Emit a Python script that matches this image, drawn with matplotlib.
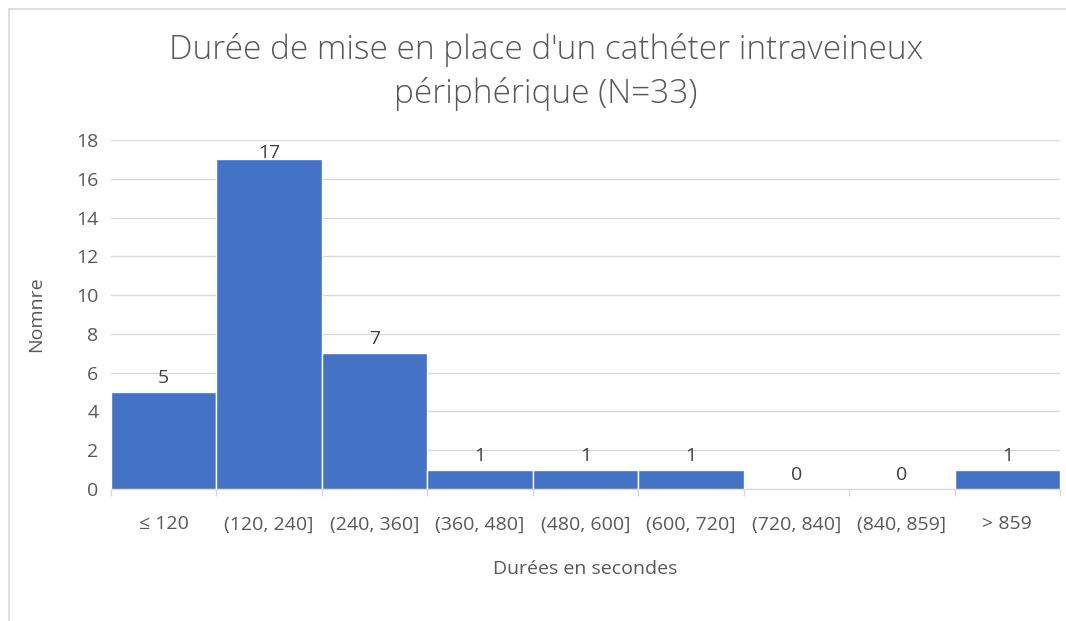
import matplotlib.pyplot as plt
from matplotlib.lines import Line2D
import numpy as np

# Data
bins = ['≤ 120', '(120, 240]', '(240, 360]', '(360, 480]', '(480, 600]',
        '(600, 720]', '(720, 840]', '(840, 859]', '> 859']
counts = [5, 17, 7, 1, 1, 1, 0, 0, 1]

plt.rcParams['font.family'] = ['Open Sans', 'DejaVu Sans']
text_col = '#595959'
bar_col = '#4472C4'
grid_col = '#D9D9D9'
fs = 14

fig = plt.figure(figsize=(10.66, 6.21), dpi=100)
ax = fig.add_axes([111 / 1066, 1 - 489 / 621, (1060 - 111) / 1066, (489 - 140) / 621])

x = np.arange(len(bins))
bars = ax.bar(x, counts, width=1.0, color=bar_col, edgecolor='white', linewidth=1, zorder=3)

ymax = 18
for b, v in zip(bars, counts):
    # labels that would not fit above the plot top are pushed down (like Excel)
    ax.text(b.get_x() + b.get_width() / 2, min(v + 0.25, ymax - 1.15), str(v),
            ha='center', va='bottom', fontsize=fs, color='#404040', zorder=4)

ax.set_xlim(-0.5, len(bins) - 0.5)
ax.set_ylim(0, ymax)
ax.set_yticks(range(0, ymax + 1, 2))
ax.yaxis.grid(True, color=grid_col, linewidth=1, zorder=0)
ax.set_axisbelow(True)

# ticks at bin edges, labels in the middle
ax.set_xticks(np.arange(len(bins) + 1) - 0.5)
ax.set_xticklabels([])
ax.set_xticks(x, minor=True)
ax.set_xticklabels(bins, minor=True)
ax.tick_params(axis='x', which='major', length=5, color=grid_col, width=1)
ax.tick_params(axis='x', which='minor', length=0, pad=19, labelsize=fs, labelcolor=text_col)
ax.tick_params(axis='y', length=0, labelsize=fs, labelcolor=text_col, pad=9)

for s in ['top', 'right', 'left']:
    ax.spines[s].set_visible(False)
ax.spines['bottom'].set_color(grid_col)

ax.set_ylabel('Nomnre', fontsize=fs, color=text_col, labelpad=22)
ax.set_xlabel('Durées en secondes', fontsize=fs, color=text_col, labelpad=19)

fig.text(546 / 1066, 1 - 72 / 621,
         "Durée de mise en place d'un cathéter intraveineux\npériphérique (N=33)",
         ha='center', va='center', fontsize=24, color=text_col, linespacing=1.42,
         fontweight='light')

# frame lines (left and top)
fig.add_artist(Line2D([8.5 / 1066, 8.5 / 1066], [0, 1 - 8.5 / 621], color='#D9D9D9', lw=1.2))
fig.add_artist(Line2D([8.5 / 1066, 1], [1 - 8.5 / 621, 1 - 8.5 / 621], color='#D9D9D9', lw=1.2))

fig.savefig('out.png', dpi=100)
